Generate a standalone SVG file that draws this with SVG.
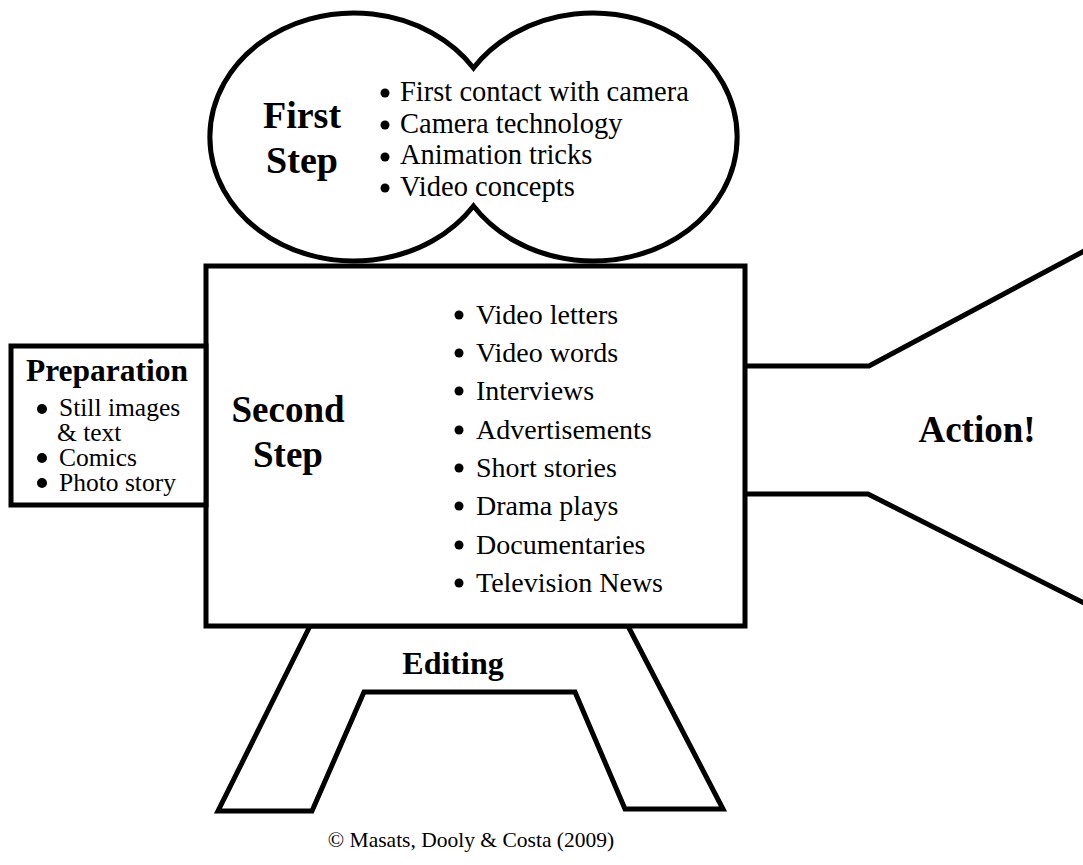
<svg xmlns="http://www.w3.org/2000/svg" width="1083" height="865" viewBox="0 0 1083 865">
<style>
.shape{fill:#fff;stroke:#000;stroke-width:5;stroke-linejoin:miter}
.line{fill:none;stroke:#000;stroke-width:5;stroke-linejoin:miter}
.h{font-family:"Liberation Serif","Times New Roman",serif;font-weight:bold;fill:#000}
.t{font-family:"Liberation Serif","Times New Roman",serif;fill:#000}
.dot{fill:#000}
</style>
<rect width="1083" height="865" fill="#fff"/>
<g id="connectors">
<polyline class="line" points="746,366 869,366 1086,250"/>
<polyline class="line" points="746,494 868,494 1086,604"/>
</g>
<g id="editing">
<polygon class="shape" points="310,626 218,811 312,811 364,692 575,692 625,809 723,809 628,626"/>
<text class="h" x="453" y="674" font-size="32" text-anchor="middle">Editing</text>
</g>
<g id="first-step">
<path class="shape" d="M473.5,68 A144,124 0 1 0 473.5,206 A144,124 0 1 0 473.5,68 Z"/>
<text class="h" x="302" y="128" font-size="38" text-anchor="middle">First</text>
<text class="h" x="302" y="173" font-size="38" text-anchor="middle">Step</text>
<circle class="dot" cx="385" cy="93" r="4.5"/>
<circle class="dot" cx="385" cy="125" r="4.5"/>
<circle class="dot" cx="385" cy="157" r="4.5"/>
<circle class="dot" cx="385" cy="188" r="4.5"/>
<text class="t" x="400" y="101" font-size="28.5">First contact with camera</text>
<text class="t" x="400" y="133" font-size="28.5">Camera technology</text>
<text class="t" x="400" y="164" font-size="28.5">Animation tricks</text>
<text class="t" x="400" y="196" font-size="28.5">Video concepts</text>
</g>
<g id="second-step">
<rect class="shape" x="206" y="266" width="539" height="360"/>
<text class="h" x="288" y="422" font-size="37" text-anchor="middle">Second</text>
<text class="h" x="288" y="467" font-size="37" text-anchor="middle">Step</text>
<g class="dot">
<circle cx="459" cy="315" r="4.5"/>
<circle cx="459" cy="353" r="4.5"/>
<circle cx="459" cy="391" r="4.5"/>
<circle cx="459" cy="430" r="4.5"/>
<circle cx="459" cy="468" r="4.5"/>
<circle cx="459" cy="506" r="4.5"/>
<circle cx="459" cy="545" r="4.5"/>
<circle cx="459" cy="583" r="4.5"/>
</g>
<text class="t" x="476" y="324" font-size="28">Video letters</text>
<text class="t" x="476" y="362" font-size="28">Video words</text>
<text class="t" x="476" y="400" font-size="28">Interviews</text>
<text class="t" x="476" y="439" font-size="28">Advertisements</text>
<text class="t" x="476" y="477" font-size="28">Short stories</text>
<text class="t" x="476" y="515" font-size="28">Drama plays</text>
<text class="t" x="476" y="554" font-size="28">Documentaries</text>
<text class="t" x="476" y="592" font-size="28">Television News</text>
</g>
<g id="preparation">
<rect class="shape" x="11" y="346" width="195" height="159"/>
<text class="h" x="107" y="381" font-size="31.5" text-anchor="middle">Preparation</text>
<circle class="dot" cx="42" cy="409" r="5"/>
<circle class="dot" cx="42" cy="458" r="5"/>
<circle class="dot" cx="42" cy="483" r="5"/>
<text class="t" x="59" y="416" font-size="25.5">Still images</text>
<text class="t" x="57" y="441" font-size="25.5">&amp; text</text>
<text class="t" x="59" y="466" font-size="25.5">Comics</text>
<text class="t" x="59" y="491" font-size="25.5">Photo story</text>
</g>
<g id="action">
<text class="h" x="977" y="442" font-size="37" text-anchor="middle">Action!</text>
</g>
<g id="credit">
<text class="t" x="471" y="847" font-size="21.5" text-anchor="middle">© Masats, Dooly &amp; Costa (2009)</text>
</g>
</svg>
